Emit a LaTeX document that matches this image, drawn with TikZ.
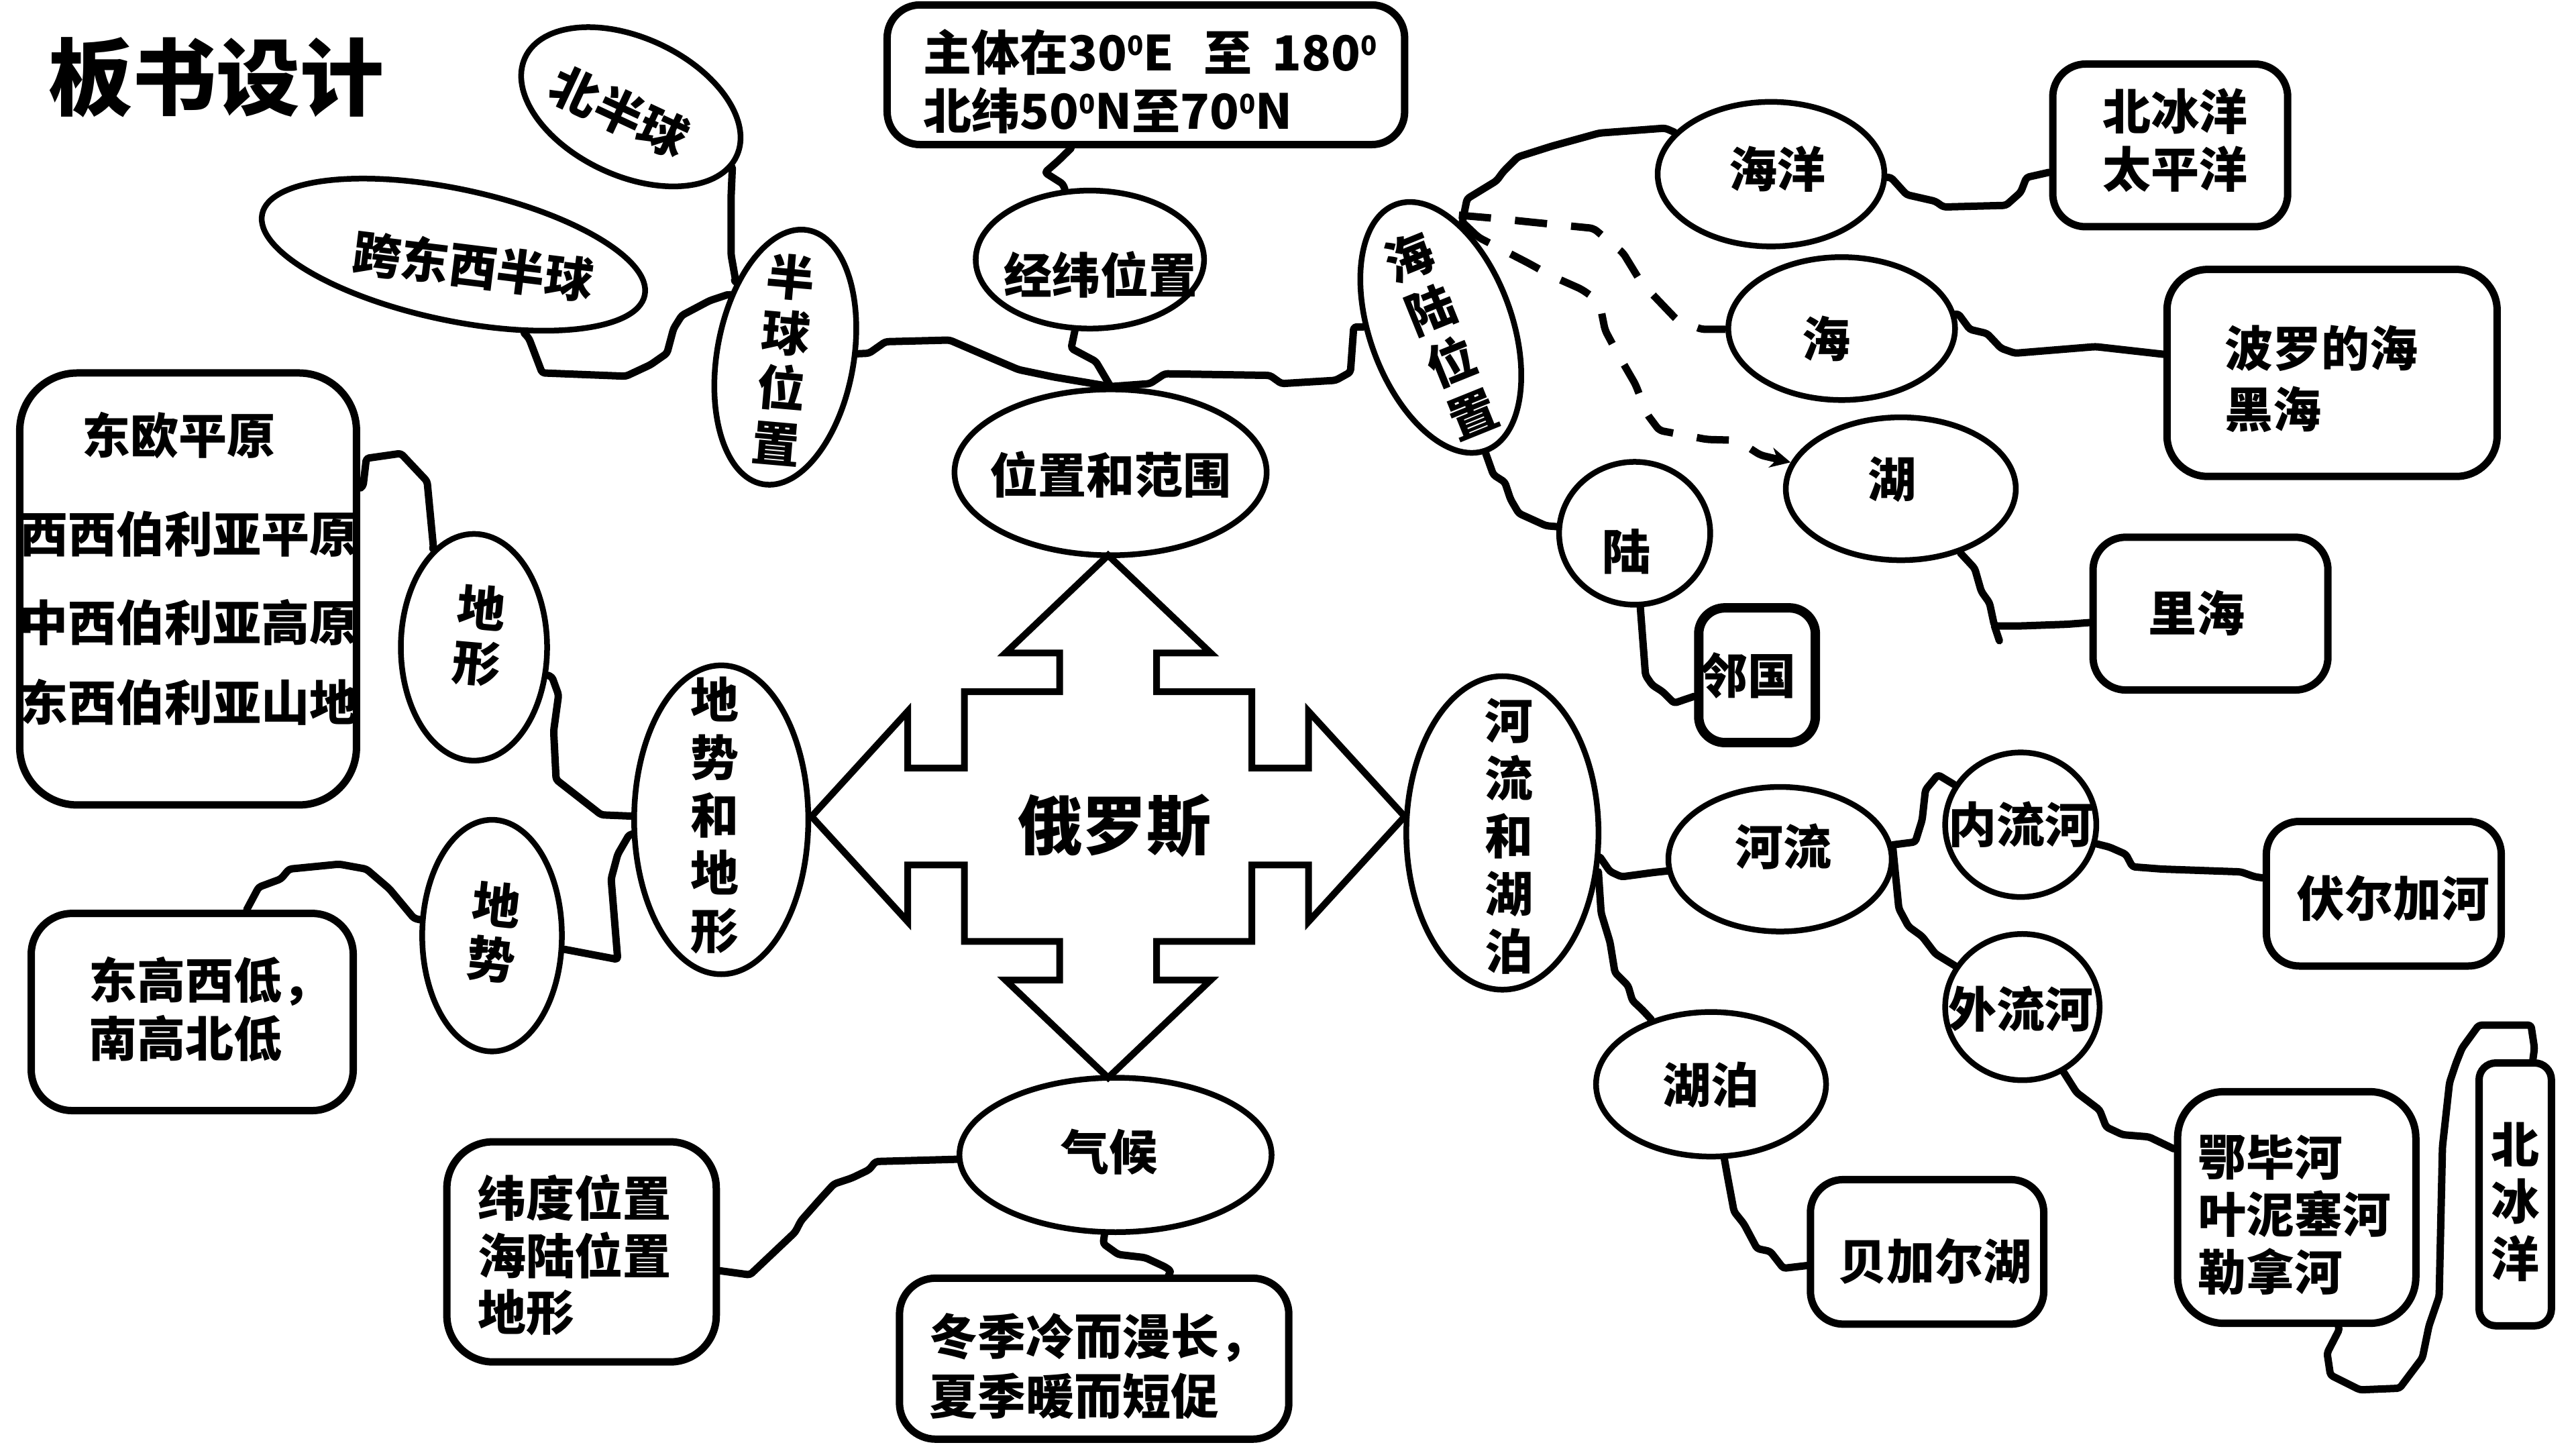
\documentclass[tikz,border=0pt]{standalone}
\usepackage{fontspec}
\setmainfont{Noto Sans CJK SC}
\usetikzlibrary{shapes.geometric,arrows.meta}
\newcommand\degz{\raisebox{23pt}{\fontsize{40pt}{40pt}\selectfont 0}}
\begin{document}
\begin{tikzpicture}[x=2.449pt,y=-2.449pt,
  tx/.style={font=\fontsize{72pt}{86pt}\selectfont\bfseries, inner sep=0pt, align=center},
  tcol/.style={tx, font=\fontsize{72pt}{#1}\selectfont\bfseries},
  ell/.style={draw, ellipse, line width=8.5pt, inner sep=0pt},
  bx/.style={draw, rectangle, line width=11pt, inner sep=0pt},
  conn/.style={line width=11pt, line join=round, line cap=round, rounded corners=4pt},
  dsh/.style={line width=11pt, dash pattern=on 48pt off 36pt, rounded corners=6pt},
  crossline/.style={line width=10pt, line join=miter}
]
\fill[white] (0,0) rectangle (1568,882);
\useasboundingbox (0,0) rectangle (1568,882);

% ---------- ellipses ----------
\node[ell, minimum width=347.8pt, minimum height=205.7pt, rotate=-25] (eNorth) at (384,65) {};
\node[ell, minimum width=582.9pt, minimum height=195.9pt, rotate=-12] (eCross) at (276,155) {};
\node[ell, minimum width=203.8pt, minimum height=384.5pt, rotate=-10] (eHemi) at (478,217.4) {};
\node[ell, minimum width=340.4pt, minimum height=205.7pt] (eLatLon) at (663.4,158) {};
\node[ell, minimum width=465.3pt, minimum height=247.3pt] (ePosRange) at (676,287.5) {};
\node[ell, minimum width=212.1pt, minimum height=390.4pt, rotate=20] (eSeaLand) at (877,199.3) {};
\node[ell, minimum width=338pt, minimum height=215.5pt] (eOcean) at (1078,106) {};
\node[ell, minimum width=338pt, minimum height=213pt] (eSea) at (1121,200) {};
\node[ell, minimum width=342.9pt, minimum height=213pt] (eLake) at (1157,297.5) {};
\node[ell, minimum width=225.3pt, minimum height=213pt] (eLand) at (995,324.6) {};
\node[ell, minimum width=286.5pt, minimum height=467.3pt] (eRivLake) at (914.5,507) {};
\node[ell, minimum width=333pt, minimum height=215.5pt] (eRiver) at (1083.5,523) {};
\node[ell, minimum width=225.3pt, minimum height=215.5pt] (eInner) at (1230,502) {};
\node[ell, minimum width=230.2pt, minimum height=218pt] (eOuter) at (1231,613) {};
\node[ell, minimum width=342.9pt, minimum height=215.5pt] (eLakes) at (1041.5,660) {};
\node[ell, minimum width=465.3pt, minimum height=230.2pt] (eClimate) at (679,703) {};
\node[ell, minimum width=259.6pt, minimum height=460.4pt] (eTerrain2) at (439,499) {};
\node[ell, minimum width=218pt, minimum height=338pt] (eLandform) at (288.5,394) {};
\node[ell, minimum width=208.2pt, minimum height=345.3pt] (eRelief) at (299.5,569.5) {};

% ---------- boxes ----------
\node[bx, minimum width=771.4pt, minimum height=208.2pt, rounded corners=49pt] (boxCoord) at (697.5,45.5) {};
\node[bx, minimum width=502pt, minimum height=644pt, rounded corners=86pt] (boxPlains) at (114.5,358.5) {};
\node[bx, minimum width=480pt, minimum height=293.9pt, rounded corners=61pt] (boxTerrain) at (117,616) {};
\node[bx, minimum width=401.6pt, minimum height=328.2pt, rounded corners=69pt] (boxClimate) at (354,762) {};
\node[bx, minimum width=580.4pt, minimum height=240pt, rounded corners=54pt] (boxWinter) at (666,827) {};
\node[bx, minimum width=350.2pt, minimum height=242.5pt, rounded corners=49pt] (boxOcean) at (1321,88.5) {};
\node[bx, minimum width=492.2pt, minimum height=308.6pt, rounded corners=61pt] (boxSea) at (1419.5,227) {};
\node[bx, minimum width=350.2pt, minimum height=227.8pt, rounded corners=49pt] (boxLake) at (1345.5,373.5) {};
\node[bx, minimum width=173.9pt, minimum height=200.8pt, rounded corners=39pt, line width=14pt] (boxNeighbor) at (1069.5,411) {};
\node[bx, minimum width=350.2pt, minimum height=215.5pt, rounded corners=49pt] (boxVolga) at (1451,544) {};
\node[bx, minimum width=347.8pt, minimum height=215.5pt, rounded corners=49pt] (boxBaikal) at (1173,762) {};
\node[bx, minimum width=355.1pt, minimum height=345.3pt, rounded corners=69pt] (boxOb) at (1398,735) {};
\node[bx, minimum width=107.8pt, minimum height=391.8pt, rounded corners=25pt] (boxArctic) at (1531,727) {};

% ---------- central cross ----------
\begin{scope}[shift={(674.5,497)}]
\draw[crossline] (0,-159) -- (62.5,-99.5) -- (29.5,-99.5) -- (29.5,-76) -- (87.5,-76) -- (87.5,-29.5) -- (122,-29.5) -- (122,-64) -- (180.5,0) -- (122,64) -- (122,29.5) -- (87.5,29.5) -- (87.5,76) -- (29.5,76) -- (29.5,99.5) -- (62.5,99.5) -- (0,159) -- (-62.5,99.5) -- (-29.5,99.5) -- (-29.5,76) -- (-87.5,76) -- (-87.5,29.5) -- (-122,29.5) -- (-122,64) -- (-180.5,0) -- (-122,-64) -- (-122,-29.5) -- (-87.5,-29.5) -- (-87.5,-76) -- (-29.5,-76) -- (-29.5,-99.5) -- (-62.5,-99.5) -- cycle;
\end{scope}

% ---------- connectors ----------
\draw[conn] (eNorth.-6) -- (445,120) -- (445,155) -- (448,172) -- (eHemi);
\draw[conn] (eCross) -- (322,206) -- (330,227) -- (381,229) -- (396,222) -- (406,215) -- (410,200) -- (415,192) -- (432,183) -- (444,179) -- (eHemi);
\draw[conn] (eHemi) -- (529,215) -- (539,208) -- (578,207) -- (603.5,218) -- (620,225) -- (641.5,229.5) -- (ePosRange.north);
\draw[conn] (eLatLon) -- (652,212) -- (667,220) -- (ePosRange.north);
\draw[conn] (ePosRange.north) -- (700,233.5) -- (709,227.5) -- (773,228.5) -- (780,233.5) -- (813,231.5) -- (822,226.5) -- (824,199) -- (eSeaLand);
\draw[conn] (boxCoord) -- (644,98) -- (636,105) -- (647,112) -- (eLatLon);
\draw[conn] (eSeaLand) -- (893,121) -- (911,110) -- (915,104.5) -- (924,95.5) -- (944.5,89) -- (973.5,81) -- (1013.5,78) -- (eOcean);
\draw[conn] (eOcean) -- (1151,108) -- (1160.5,118.5) -- (1178,122.5) -- (1183,126) -- (1221,125) -- (1230,117) -- (1233.5,108) -- (boxOcean);
\draw[conn] (eSea) -- (1192,191) -- (1199,200.5) -- (1209.5,203) -- (1218,212) -- (1226.5,215) -- (1275.5,211) -- (boxSea);
\coordinate (lkJ) at (1214,381);
\coordinate (lkTail) at (1217,390);
\draw[conn] (eLake) -- (1202,346) -- (1206,360) -- (1211,367) -- (lkJ) -- (1230,381) -- (1258,380) -- (boxLake);
\draw[conn] (lkJ) -- (lkTail);
\draw[conn] (eSeaLand) -- (909,289) -- (916,293.5) -- (919.5,304) -- (924.5,312.5) -- (941,320) -- (eLand);
\draw[conn] (eLand) -- (1001.6,411) -- (1005.7,417) -- (1012,421) -- (1019,428) -- (boxNeighbor);
\draw[conn] (boxPlains) -- (221,296) -- (223,279) -- (244,276) -- (260,293) -- (264,335) -- (eLandform);
\draw[conn] (eLandform) -- (336,412) -- (340,423) -- (337,445) -- (338.5,474.5) -- (366,496) -- (eTerrain2);
\draw[conn] (eTerrain2) -- (383,508) -- (376,520) -- (372,535) -- (376,584) -- (eRelief);
\draw[conn] (eRelief) -- (252,559) -- (237,541) -- (223,529) -- (206.5,526) -- (176,529) -- (171,535) -- (157.5,540) -- (boxTerrain);
\draw[conn] (eClimate) -- (533,707) -- (529,712) -- (518.6,717) -- (507.6,720.7) -- (500,729) -- (487.6,743) -- (484,750) -- (456.5,776) -- (boxClimate);
\draw[conn] (eClimate) -- (671.5,757) -- (680.7,763.6) -- (697,765.5) -- (709.7,771.4) -- (713,774) -- (boxWinter);
\draw[conn] (eRivLake.-14) -- (980,530.5) -- (987,533.7) -- (1007,531) -- (eRiver);
\draw[conn] (eRivLake.-22) -- (974.6,555.7) -- (980,573.5) -- (983,592) -- (991,600) -- (993.6,609) -- (1000,615) -- (eLakes);
\draw[conn] (eRiver) -- (1165.8,512.5) -- (1170,499) -- (1172,480.8) -- (1179.6,471.6) -- (eInner);
\draw[conn] (eRiver.7) -- (1155.8,553) -- (1161.7,564) -- (1170,570) -- (1178,580.5) -- (eOuter);
\draw[conn] (eInner) -- (1284,515.6) -- (1294,520) -- (1298,527.6) -- (1316,529) -- (1364,530.7) -- (1372.5,533.7) -- (boxVolga);
\draw[conn] (eOuter) -- (1264,665) -- (1278,675.6) -- (1282,686) -- (1292,690.7) -- (1308,692) -- (boxOb);
\draw[conn] (boxOb) -- (1424,809) -- (1416.5,823.6) -- (1418.5,837) -- (1436.5,846) -- (1460.6,845) -- (1474.5,826.5) -- (1478.5,807) -- (1484.7,789) -- (1486.7,698) -- (1491,659) -- (1495,647) -- (1498.6,638) -- (1508.8,624) -- (1540.6,624) -- (1542.7,638) -- (boxArctic);
\draw[conn] (eLakes) -- (1051.5,716) -- (1055.5,737.5) -- (1061.5,745) -- (1069.5,760) -- (1077.5,761.7) -- (1085.5,772) -- (boxBaikal);

% dashed
\coordinate (slA) at (888,131);
\coordinate (slB) at (891,136);
\draw[dsh] (slA) -- (911,133) -- (930,135) -- (970,139) -- (988,154) -- (999,172) -- (1021,195) -- (1036,200.5) -- (eSea);
\draw[dsh, -{Stealth[length=30pt,width=30pt]}] (slB) -- (900,144.5) -- (930,160) -- (944.5,168) -- (962.5,176) -- (973.5,183.5) -- (977,201) -- (984.5,215) -- (995.5,234) -- (1002.5,252) -- (1010,262) -- (1039,267.5) -- (1057.5,268) -- (1071.5,277) -- (eLake);

% ---------- texts ----------
\node[tx, font=\fontsize{125pt}{125pt}\selectfont\bfseries] (title) at (131.5,47) {板书设计};
\node[tx, rotate=-25] (tNorth) at (377,68) {北半球};
\node[tx, rotate=-7] (tCross) at (288,162) {跨东西半球};
\node[tcol=83pt, rotate=-5] (tHemi) at (477,219) {半\\球\\位\\置};
\node[tx] (tLatLon) at (670,167) {经纬位置};
\node[tx] (tPosRange) at (676,289) {位置和范围};
\node[tcol=84pt, rotate=22] (tSeaLand) at (877,204) {海\\陆\\位\\置};
\node[tx] (tOcean) at (1082,103) {海洋};
\node[tx] (tSea) at (1111.5,206) {海};
\node[tx] (tLake) at (1151.5,292) {湖};
\node[tx] (tLand) at (990,335.6) {陆};
\node[tcol=86pt] (tRivLake) at (918.7,509) {河\\流\\和\\湖\\泊};
\node[tx] (tRiver) at (1085.5,515.5) {河流};
\node[tx] (tInner) at (1230,502) {内流河};
\node[tx] (tOuter) at (1230,614) {外流河};
\node[tx] (tLakes) at (1041.5,660.5) {湖泊};
\node[tx] (tClimate) at (675,701) {气候};
\node[tcol=86pt] (tTerrain2) at (435,496.5) {地\\势\\和\\地\\形};
\node[tcol=82pt, rotate=-5] (tLandform) at (291.5,387) {地\\形};
\node[tcol=81pt, rotate=-6] (tRelief) at (300.5,567.5) {地\\势};
\node[tx, font=\fontsize{96pt}{96pt}\selectfont\bfseries] (tRussia) at (678.6,502.7) {俄罗斯};

\node[tx, anchor=west] (tCoord1) at (562,32) {主体在30\degz E\hspace{45pt}至\hspace{30pt}180\degz};
\node[tx, anchor=west] (tCoord2) at (562,67.4) {北纬50\degz N至70\degz N};
\node[tx] (tPl1) at (109,265) {东欧平原};
\node[tx] (tPl2) at (115,325) {西西伯利亚平原};
\node[tx] (tPl3) at (115,379) {中西伯利亚高原};
\node[tx] (tPl4) at (115,427.5) {东西伯利亚山地};
\node[tx, anchor=west] (tTe1) at (54,597.5) {东高西低，};
\node[tx, anchor=west] (tTe2) at (54,632) {南高北低};
\node[tx, anchor=west] (tCl1) at (291,729) {纬度位置};
\node[tx, anchor=west] (tCl2) at (291,764) {海陆位置};
\node[tx, anchor=west] (tCl3) at (291,799) {地形};
\node[tx, anchor=west] (tWi1) at (565.8,814.4) {冬季冷而漫长，};
\node[tx, anchor=west] (tWi2) at (565.8,850) {夏季暖而短促};
\node[tx] (tOc1) at (1324,68) {北冰洋};
\node[tx] (tOc2) at (1324,103) {太平洋};
\node[tx, anchor=west] (tSe1) at (1354,212) {波罗的海};
\node[tx, anchor=west] (tSe2) at (1354,249) {黑海};
\node[tx] (tLk) at (1337,373) {里海};
\node[tx] (tNb) at (1064,411.4) {邻国};
\node[tx] (tVo) at (1456.6,547) {伏尔加河};
\node[tx] (tBa) at (1178,767.7) {贝加尔湖};
\node[tx, anchor=west] (tOb1) at (1338,704.4) {鄂毕河};
\node[tx, anchor=west] (tOb2) at (1338,739) {叶泥塞河};
\node[tx, anchor=west] (tOb3) at (1338,774) {勒拿河};
\node[tcol=85pt] (tAr) at (1531,731.5) {北\\冰\\洋};
\end{tikzpicture}
\end{document}
